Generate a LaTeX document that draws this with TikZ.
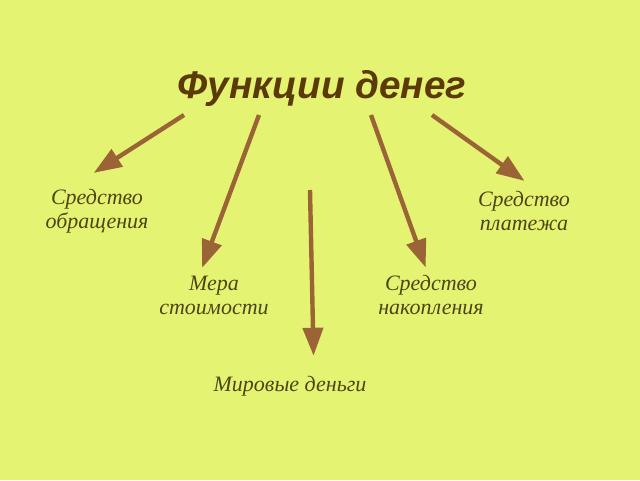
\documentclass[tikz,border=0pt]{standalone}
\usepackage{fontspec}
\setmainfont{Liberation Serif}
\newfontfamily\titlefont{Liberation Sans}
\usetikzlibrary{arrows.meta}
\definecolor{bgcol}{HTML}{E5F373}
\definecolor{titlecol}{HTML}{5C3A08}
\definecolor{labcol}{HTML}{4D4614}
\definecolor{arrcol}{HTML}{9B6436}
\tikzset{
  func/.style={align=center, inner sep=0pt, text=labcol,
    font=\itshape\fontsize{16.5}{18}\selectfont},
  funcarrow/.style={draw=arrcol, line width=3.3pt,
    -{Triangle[length=21pt,width=15pt]}}
}
\begin{document}
\begin{tikzpicture}[x=0.75pt,y=-0.75pt]
      \fill[bgcol] (0,0) rectangle (640,480);
      \useasboundingbox (0,0) rectangle (640,480);
      \draw
        (322,88) node (title)[text=titlecol,
          font=\titlefont\bfseries\itshape\fontsize{29}{31}\selectfont]{Функции денег}
        (97,211) node[func] (obr){Средство\\обращения}
        (214,295) node[func] (mera){Мера\\стоимости}
        (290,386) node[func] (mir){Мировые деньги}
        (431,295) node[func] (nak){Средство\\накопления}
        (524,211) node[func] (plat){Средство\\платежа};
      \coordinate (s1) at (184,115);
      \coordinate (s2) at (259,115);
      \coordinate (s3) at (310,190);
      \coordinate (s4) at (371,115);
      \coordinate (s5) at (432,115);
      \begin{scope}[funcarrow]
        \draw[shorten >=22pt] (s1) to ([xshift=-21pt]obr.north);
        \draw[shorten >=6pt] (s2) to ([xshift=-11pt]mera.north);
        \draw[shorten >=15pt] (s3) to ([xshift=18pt]mir.north);
        \draw[shorten >=6pt] (s4) to ([xshift=-2pt]nak.north);
        \draw[shorten >=13pt] (s5) to ([xshift=11pt]plat.north);
      \end{scope}
    \end{tikzpicture}
\end{document}
